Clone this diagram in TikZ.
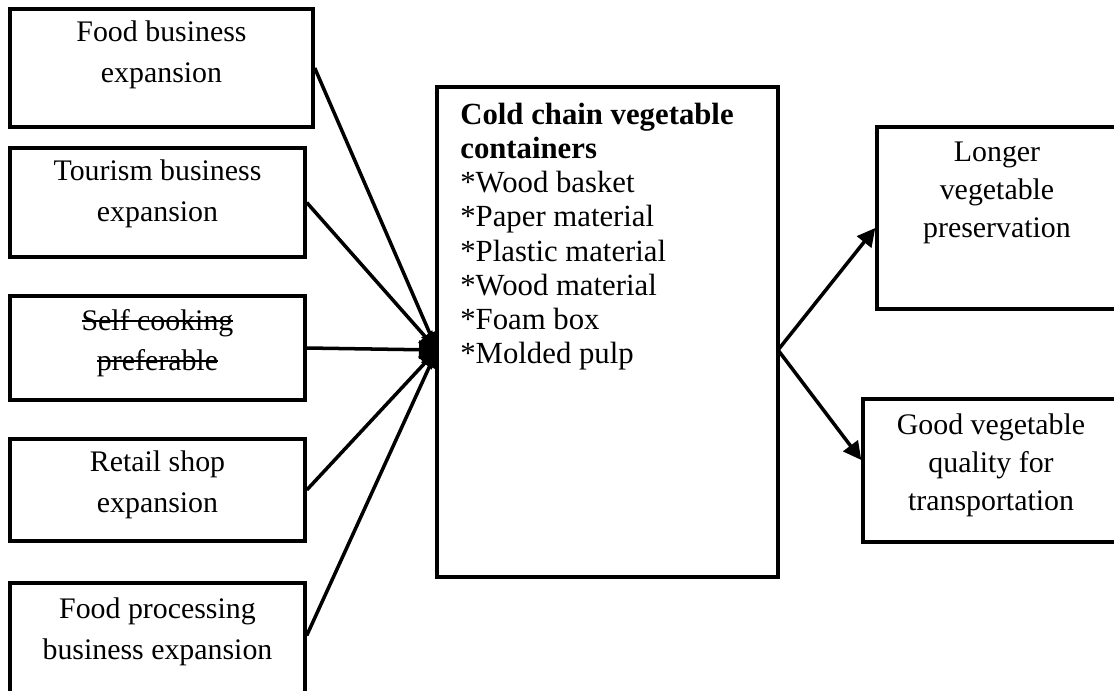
\documentclass[tikz,border=0pt]{standalone}
\usepackage{fontspec}
\setmainfont{Liberation Serif}
\usetikzlibrary{arrows.meta}

\newlength\strkwd
\newcommand\strk[1]{\settowidth{\strkwd}{#1}\rlap{\rule[0.28em]{\strkwd}{1pt}}#1}

\begin{document}
\begin{tikzpicture}[x=0.02cm, y=-0.02cm]
    \useasboundingbox (0,0) rectangle (1114,690);
    \clip (0,0) rectangle (1114,690);

    % boxes
    \begin{scope}[every node/.style={rectangle, draw, line width=2pt, inner sep=0pt}]
        \node[minimum width=6.06cm, minimum height=2.36cm] (food) at (161.5,68) {};
        \node[minimum width=5.9cm, minimum height=2.18cm] (tourism) at (157.5,202.5) {};
        \node[minimum width=5.9cm, minimum height=2.08cm] (selfcook) at (157.5,348) {};
        \node[minimum width=5.9cm, minimum height=2.04cm] (retail) at (157.5,490) {};
        \node[minimum width=5.9cm, minimum height=2.4cm] (processing) at (157.5,643) {};

        \node[minimum width=6.82cm, minimum height=9.8cm] (containers) at (607.5,332) {};

        \node[minimum width=4.8cm, minimum height=3.64cm] (keep) at (997,218) {};
        \node[minimum width=5.12cm, minimum height=2.86cm] (quality) at (991,470.5) {};
    \end{scope}

    % texts
    \begin{scope}[every node/.style={align=center, inner sep=0pt, font=\fontsize{17}{23}\selectfont}]
        \node (foodtxt) at (161.5,55) {Food business\\expansion};
        \node (tourismtxt) at (157.5,194) {Tourism business\\expansion};
        \node (selfcooktxt) at (157.5,343) {\strk{Self cooking}\\\strk{preferable}};
        \node (retailtxt) at (157.5,485) {Retail shop\\expansion};
        \node (processingtxt) at (157.5,632) {Food processing\\business expansion};
    \end{scope}

    \begin{scope}[every node/.style={align=center, inner sep=0pt, font=\fontsize{17}{21.6}\selectfont}]
        \node (keeptxt) at (997,193) {Longer\\vegetable\\preservation};
        \node (qualitytxt) at (991,465) {Good vegetable\\quality for\\transportation};
    \end{scope}

    \node[anchor=north west, align=left, inner sep=0pt, font=\fontsize{17.5}{19.4}\selectfont] (containerstxt) at (460,103)
        {\textbf{Cold chain vegetable}\\\textbf{containers}\\{}*Wood basket\\{}*Paper material\\{}*Plastic material\\{}*Wood material\\{}*Foam box\\{}*Molded pulp};

    % connectors
    \coordinate (inhub) at (437,350);
    \coordinate (outhub) at (778,350);
    \begin{scope}[line width=2pt, -{Triangle[length=0.36cm, width=0.36cm]}]
        \draw (food.east) -- (inhub);
        \draw (tourism.east) -- (inhub);
        \draw (selfcook.east) -- (inhub);
        \draw (retail.east) -- (inhub);
        \draw ([yshift=0.15cm]processing.east) -- (inhub);

        \draw (outhub) -- ([yshift=-0.2cm]keep.west);
        \draw (outhub) -- ([yshift=0.21cm]quality.west);
    \end{scope}
\end{tikzpicture}
\end{document}
